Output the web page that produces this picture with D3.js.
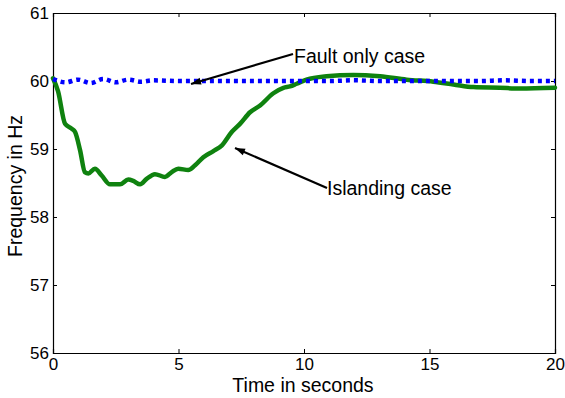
<!DOCTYPE html>
<html><head><meta charset="utf-8">
<script src="https://cdn.jsdelivr.net/npm/d3@7"></script>
<style>body{margin:0;background:#fff}svg{display:block}text{font-family:"Liberation Sans",Arial,sans-serif;fill:#000}</style>
</head><body>
<svg id="c" width="565" height="398"></svg>
<script>
const xTicks = [0, 5, 10, 15, 20];
const yTicks = [56, 57, 58, 59, 60, 61];
const islandT = [0,0.2,0.48,0.74,0.88,1.08,1.27,1.41,1.67,1.94,2.27,2.67,3.0,3.2,3.47,3.73,4.06,4.46,4.73,4.99,5.39,5.66,5.99,6.39,6.72,7.12,7.45,7.85,8.25,8.78,9.18,9.44,9.71,10.1,10.9,11.96,13.03,14.09,15.15,15.95,16.75,17.8,18.6,20];
const islandF = [60.04,59.85,59.37,59.3,59.25,58.98,58.66,58.64,58.71,58.61,58.48,58.48,58.55,58.53,58.48,58.56,58.63,58.59,58.66,58.71,58.69,58.76,58.88,58.97,59.05,59.25,59.37,59.54,59.64,59.82,59.9,59.92,59.96,60.02,60.07,60.09,60.07,60.02,59.99,59.95,59.91,59.9,59.89,59.9];
const faultT = [0,0.5,1,1.5,2,2.5,3,3.5,4,5,6,7,8,9,10,11,12,13,14,15,16,17,18,19,20];
const faultF = [60.03,59.98,60.02,59.97,60.03,59.98,60.02,59.99,60.01,60.0,60.0,60.0,60.0,60.0,60.0,60.0,60.01,60.0,60.0,60.0,60.0,60.0,60.01,60.0,60.0];
const labels = ["Fault only case", "Islanding case"];

const L=53, R=555, T=13, B=353;
const svg = d3.select("#c");
const x = d3.scaleLinear().domain([0,20]).range([L,R]);
const y = d3.scaleLinear().domain([56,61]).range([B,T]);

// axes
const fs = "17px";
const gx = svg.append("g").attr("transform",`translate(0,${B})`)
  .call(d3.axisBottom(x).tickValues(xTicks).tickSize(-4).tickPadding(5).tickFormat(d3.format("d")));
const gy = svg.append("g").attr("transform",`translate(${L},0)`)
  .call(d3.axisLeft(y).tickValues(yTicks).tickSize(-4).tickPadding(4).tickFormat(d3.format("d")));
const gt = svg.append("g").attr("transform",`translate(0,${T})`)
  .call(d3.axisTop(x).tickValues(xTicks).tickSize(-4).tickFormat(""));
const gr = svg.append("g").attr("transform",`translate(${R},0)`)
  .call(d3.axisRight(y).tickValues(yTicks).tickSize(-4).tickFormat(""));
[gx,gy,gt,gr].forEach(g=>{
  g.selectAll(".domain").attr("stroke","#000").attr("stroke-width",1.2);
  g.selectAll(".tick line").attr("stroke","#000");
  g.selectAll("text").attr("font-size",fs).attr("font-family","Liberation Sans, Arial, sans-serif").attr("fill","#000");
});
gy.selectAll(".tick text").attr("dy","0.35em");

// lines
const line = d3.line().curve(d3.curveMonotoneX);
svg.append("path").datum(islandT.map((t,i)=>[x(t),y(islandF[i])]))
  .attr("d",line).attr("fill","none").attr("stroke","#0f820f").attr("stroke-width",4.5)
  .attr("stroke-linejoin","round").attr("stroke-linecap","round");
svg.append("path").datum(faultT.map((t,i)=>[x(t),y(faultF[i])]))
  .attr("d",line).attr("fill","none").attr("stroke","#0000ff").attr("stroke-width",4.5)
  .attr("stroke-dasharray","4,4");

// annotations
function arrow(x1,y1,x2,y2){
  svg.append("line").attr("x1",x1).attr("y1",y1).attr("x2",x2).attr("y2",y2)
    .attr("stroke","#000").attr("stroke-width",2.2);
  const a=Math.atan2(y2-y1,x2-x1), len=10, w=3.5;
  const bx=x2-len*Math.cos(a), by=y2-len*Math.sin(a);
  const px=-Math.sin(a)*w, py=Math.cos(a)*w;
  svg.append("path").attr("d",`M${x2},${y2}L${bx+px},${by+py}L${bx-px},${by-py}Z`).attr("fill","#000");
}
const lf = "19.5px";
arrow(293,54,191,84);
svg.append("text").attr("x",294).attr("y",63).attr("font-size",lf).text(labels[0]);
arrow(327,188,235,148);
svg.append("text").attr("x",327).attr("y",195).attr("font-size",lf).text(labels[1]);

// axis titles
svg.append("text").attr("x",303).attr("y",392).attr("text-anchor","middle").attr("font-size",lf).text("Time in seconds");
svg.append("text").attr("transform",`translate(22,186) rotate(-90)`).attr("text-anchor","middle").attr("font-size",lf).text("Frequency in Hz");
</script>
</body></html>
